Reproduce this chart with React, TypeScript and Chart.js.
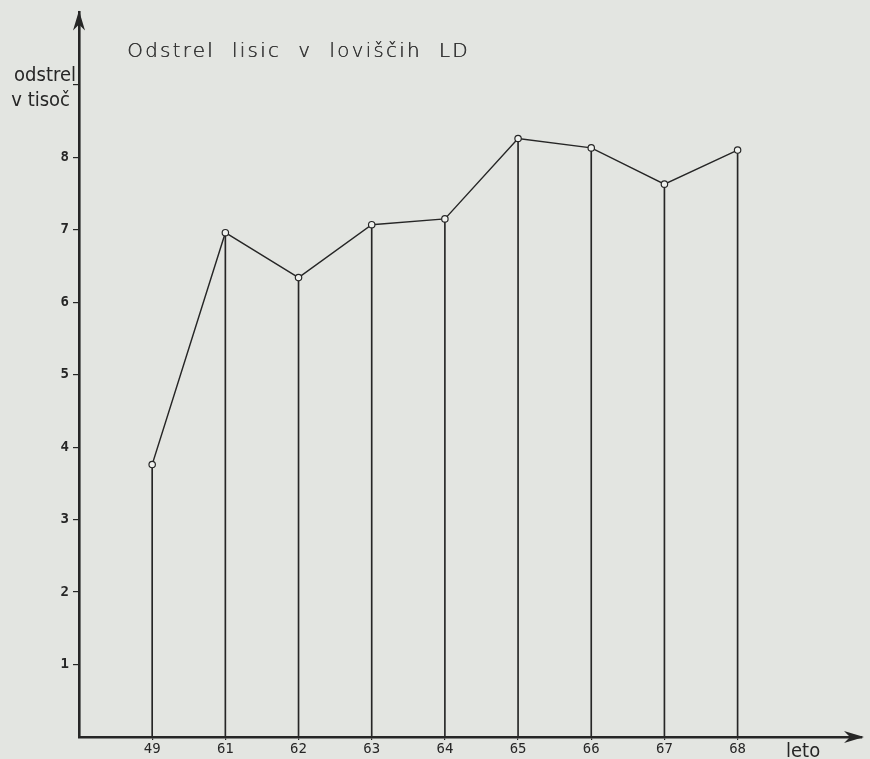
import React, { useEffect, useRef } from "react";
import { Chart, registerables } from "chart.js";

Chart.register(...registerables);

const categories = ["49", "61", "62", "63", "64", "65", "66", "67", "68"];
const odstrel = [3.76, 6.96, 6.34, 7.07, 7.15, 8.26, 8.13, 7.63, 8.1];
const yTicks = [1, 2, 3, 4, 5, 6, 7, 8, 9];
const yTickLabels = ["1", "2", "3", "4", "5", "6", "7", "8", ""];

const title = "Odstrel  lisic  v  loviščih  LD";
const yTitle = ["odstrel", "v tisoč"];
const xTitle = "leto";

const BG = "#e3e5e1";
const INK = "#262626";

const decorPlugin = {
  id: "decor",
  afterDraw(chart: any) {
    const { ctx } = chart;
    const xs = chart.scales.x;
    const ys = chart.scales.y;
    const left = xs.left;
    const bottom = ys.bottom;
    ctx.save();
    ctx.fillStyle = INK;
    ctx.strokeStyle = INK;
    // y arrow
    const topY = ys.top;
    ctx.beginPath();
    ctx.moveTo(left, topY - 2);
    ctx.lineTo(left - 6, topY + 18);
    ctx.lineTo(left, topY + 12);
    ctx.lineTo(left + 6, topY + 18);
    ctx.closePath();
    ctx.fill();
    // x arrow
    const rightX = xs.right;
    ctx.beginPath();
    ctx.moveTo(rightX + 2, bottom);
    ctx.lineTo(rightX - 18, bottom - 6);
    ctx.lineTo(rightX - 12, bottom);
    ctx.lineTo(rightX - 18, bottom + 6);
    ctx.closePath();
    ctx.fill();
    // title
    ctx.fillStyle = "#333333";
    ctx.font = "300 20px 'DejaVu Sans'";
    (ctx as any).letterSpacing = "2.2px";
    ctx.textAlign = "left";
    ctx.textBaseline = "alphabetic";
    ctx.fillText(title, left + 48, 57);
    ctx.fillText(title, left + 48.4, 57);
    (ctx as any).letterSpacing = "0px";
    ctx.fillStyle = INK;
    // y title
    ctx.font = "20px 'DejaVu Sans Condensed', 'DejaVu Sans'";
    ctx.textAlign = "right";
    ctx.fillText(yTitle[0], left - 3, 81);
    ctx.fillText(yTitle[1], left - 9, 106);
    // x title
    ctx.textAlign = "left";
    ctx.fillText(xTitle, 786, 757);
    ctx.restore();
  },
};

export default function App() {
  const ref = useRef<HTMLCanvasElement>(null);
  useEffect(() => {
    document.body.style.margin = "0";
    document.body.style.background = BG;
    const chart = new Chart(ref.current!, {
      type: "line",
      data: {
        datasets: [
          {
            type: "bar",
            data: odstrel.map((v, i) => ({ x: i + 1, y: v })),
            backgroundColor: INK,
            barThickness: 1,
            order: 2,
          } as any,
          {
            type: "line",
            data: odstrel.map((v, i) => ({ x: i + 1, y: v })),
            borderColor: INK,
            borderWidth: 1.4,
            pointRadius: 3.2,
            pointBorderWidth: 1.2,
            pointBorderColor: INK,
            pointBackgroundColor: "#f0f2ef",
            order: 1,
          },
        ],
      },
      options: {
        animation: false,
        responsive: false,
        maintainAspectRatio: false,
        layout: { padding: { top: 11, right: 8, left: 0, bottom: 0 } },
        plugins: { legend: { display: false }, tooltip: { enabled: false } },
        scales: {
          x: {
            type: "linear",
            min: 0,
            max: 10.7,
            offset: false,
            afterBuildTicks: (s: any) => {
              s.ticks = categories.map((_, i) => ({ value: i + 1 }));
            },
            afterFit: (s: any) => {
              s.height = 22;
            },
            border: { display: true, color: INK, width: 2.6 },
            grid: { offset: false, drawOnChartArea: false, drawTicks: true, tickLength: 3, color: INK, lineWidth: 1.2 },
            ticks: {
              padding: 1,
              color: INK,
              font: { family: "'DejaVu Sans Mono'", size: 14 },
              callback: (v: any) => categories[Math.round(v) - 1] ?? "",
              maxRotation: 0,
              autoSkip: false,
            },
          },
          y: {
            type: "linear",
            min: 0,
            max: 10,
            afterBuildTicks: (s: any) => {
              s.ticks = yTicks.map((v) => ({ value: v }));
            },
            afterFit: (s: any) => {
              s.width = 79;
            },
            border: { display: true, color: INK, width: 2.6 },
            grid: { drawOnChartArea: false, drawTicks: true, tickLength: 6, color: INK, lineWidth: 1.2 },
            ticks: {
              padding: 4,
              color: INK,
              font: { family: "'DejaVu Sans Mono'", size: 14, weight: "bold" },
              callback: (v: any) => yTickLabels[yTicks.indexOf(Math.round(v))] ?? "",
              autoSkip: false,
            },
          },
        },
      },
      plugins: [decorPlugin],
    } as any);
    return () => chart.destroy();
  }, []);
  return (
    <div style={{ width: 870, height: 759, background: BG }}>
      <canvas ref={ref} width={870} height={759} style={{ display: "block" }} />
    </div>
  );
}
